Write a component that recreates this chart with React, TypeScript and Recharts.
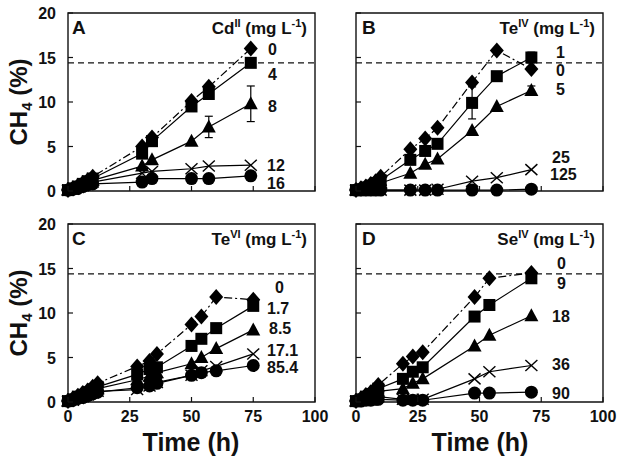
import React from "react";
import { LineChart, Line, XAxis, YAxis, ReferenceLine, ReferenceArea, ErrorBar } from "recharts";

const FONT = "'Liberation Sans', Arial, Helvetica, sans-serif";

// ---------- data ----------
const xTicks = [0, 25, 50, 75, 100];
const yTicks = [0, 5, 10, 15, 20];
const baselineCH4 = 14.4;

// Panel A : Cd(II)
const timesA = [0, 2, 4, 6, 8, 10, 30, 34, 50, 57, 74];
const cdA_0 = [0.1, 0.3, 0.6, 0.9, 1.2, 1.6, 5.0, 6.0, 10.1, 11.7, 16.0];
const cdA_4 = [0.1, 0.3, 0.5, 0.8, 1.1, 1.4, 4.2, 5.6, 9.5, 10.9, 14.4];
const cdA_8 = [0.1, 0.2, 0.5, 0.7, 1.0, 1.2, 2.8, 3.5, 5.6, 7.2, 9.8];
const cdA_12 = [0.1, 0.2, 0.4, 0.6, 0.8, 1.0, 2.0, 2.2, 2.5, 2.8, 2.9];
const cdA_16 = [0.1, 0.2, 0.3, 0.5, 0.7, 0.8, 1.0, 1.4, 1.4, 1.4, 1.7];
const errA_8 = [0, 0, 0, 0, 0, 0, 0, 0, 0, 1.2, 2.0];
const labelsA = ["0", "4", "8", "12", "16"];

// Panel B : Te(IV)
const timesB = [0, 2, 4, 6, 8, 10, 22, 28, 33, 47, 57, 71];
const teB_0 = [0.1, 0.3, 0.5, 0.8, 1.1, 1.6, 4.7, 5.9, 7.1, 12.2, 15.8, 13.7];
const teB_1 = [0.1, 0.2, 0.4, 0.6, 0.9, 1.2, 3.5, 4.5, 5.3, 9.9, 12.9, 15.0];
const teB_5 = [0.1, 0.2, 0.3, 0.5, 0.7, 0.9, 2.0, 3.0, 3.6, 6.8, 9.5, 11.3];
const teB_25 = [0.1, 0.1, 0.1, 0.1, 0.1, 0.1, 0.1, 0.1, 0.2, 1.1, 1.5, 2.4];
const teB_125 = [0.1, 0.1, 0.1, 0.1, 0.1, 0.1, 0.1, 0.1, 0.1, 0.1, 0.1, 0.2];
const errB_1 = [0, 0, 0, 0, 0, 0, 0, 0, 0, 1.8, 0.5, 0.6];
const errB_5 = [0, 0, 0, 0, 0, 0, 0, 0, 0, 0, 0, 0.5];
const labelsB = ["0", "1", "5", "25", "125"];

// Panel C : Te(VI)
const timesC = [0, 2, 4, 6, 8, 10, 12, 28, 33, 36, 50, 54, 60, 75];
const teC_0 = [0.1, 0.4, 0.7, 1.0, 1.3, 1.7, 2.1, 4.0, 4.6, 5.4, 8.7, 9.6, 11.8, 11.5];
const teC_17 = [0.1, 0.3, 0.6, 0.8, 1.1, 1.4, 1.7, 3.1, 3.7, 3.9, 6.3, 7.1, 8.3, 10.8];
const teC_85 = [0.1, 0.3, 0.5, 0.7, 1.0, 1.2, 1.5, 2.5, 2.9, 3.3, 4.3, 5.0, 6.0, 8.1];
const teC_171 = [0.1, 0.2, 0.4, 0.6, 0.8, 1.0, 1.2, 1.4, 1.8, 2.2, 3.0, 3.5, 4.0, 5.4];
const teC_854 = [0.1, 0.2, 0.4, 0.5, 0.7, 0.9, 1.1, 1.6, 1.8, 2.1, 3.0, 3.3, 3.5, 4.1];
const labelsC = ["0", "1.7", "8.5", "17.1", "85.4"];

// Panel D : Se(IV)
const timesD = [0, 2, 4, 6, 8, 9, 19, 23, 27, 48, 54, 71];
const seD_0 = [0.1, 0.4, 0.8, 1.1, 1.5, 1.9, 4.3, 5.1, 5.6, 11.8, 13.9, 14.5];
const seD_9 = [0.1, 0.3, 0.6, 0.9, 1.2, 1.5, 2.6, 3.4, 3.9, 9.6, 10.9, 13.9];
const seD_18 = [0.1, 0.2, 0.5, 0.7, 1.0, 1.2, 1.5, 2.1, 2.6, 6.3, 7.5, 9.7];
const seD_36 = [0.1, 0.2, 0.3, 0.4, 0.5, 0.6, 0.3, 0.3, 0.3, 2.6, 3.4, 4.1];
const seD_90 = [0.1, 0.1, 0.2, 0.2, 0.3, 0.3, 0.2, 0.2, 0.2, 1.0, 1.0, 1.1];
const labelsD = ["0", "9", "18", "36", "90"];

// ---------- markers ----------
type Shape = "diamond" | "square" | "triangle" | "cross" | "circle";
const shapes: Shape[] = ["diamond", "square", "triangle", "cross", "circle"];

function makeDot(shape: Shape) {
  return (p: any) => {
    const { cx, cy, index } = p;
    const k = `${shape}-${index}`;
    if (cx == null || cy == null || isNaN(cx) || isNaN(cy)) return <g key={k} />;
    switch (shape) {
      case "diamond":
        return (
          <polygon key={k} points={`${cx},${cy - 8} ${cx + 7},${cy} ${cx},${cy + 8} ${cx - 7},${cy}`} fill="#000" />
        );
      case "square":
        return <rect key={k} x={cx - 6} y={cy - 6} width={12} height={12} fill="#000" />;
      case "triangle":
        return <polygon key={k} points={`${cx},${cy - 7.5} ${cx + 7},${cy + 5.5} ${cx - 7},${cy + 5.5}`} fill="#000" />;
      case "cross":
        return (
          <g key={k} stroke="#000" strokeWidth={1.4}>
            <line x1={cx - 6} y1={cy - 5.5} x2={cx + 6} y2={cy + 5.5} />
            <line x1={cx - 6} y1={cy + 5.5} x2={cx + 6} y2={cy - 5.5} />
          </g>
        );
      default:
        return <circle key={k} cx={cx} cy={cy} r={6.5} fill="#000" />;
    }
  };
}

// ---------- panel ----------
const PLOT_W = 247;
const PLOT_H = 178;
const ML = 68;
const MT = 13;
const MR = 15;
const MB = 40;

function xTick(show: boolean) {
  return (p: any) => {
    const { x, y, payload, index } = p;
    return (
      <g key={`xt-${index}`}>
        <line x1={x} x2={x} y1={y} y2={y - 5} stroke="#111" strokeWidth={1.2} />
        {show && (
          <text x={x} y={y + 20} textAnchor="middle" fontFamily={FONT} fontWeight="bold" fontSize={16} fill="#111">
            {payload.value}
          </text>
        )}
      </g>
    );
  };
}

function yTick(show: boolean) {
  return (p: any) => {
    const { x, y, payload, index } = p;
    return (
      <g key={`yt-${index}`}>
        <line x1={x} x2={x + 5} y1={y} y2={y} stroke="#111" strokeWidth={1.2} />
        {show && (
          <text x={x - 12} y={y + 6} textAnchor="end" fontFamily={FONT} fontWeight="bold" fontSize={16} fill="#111">
            {payload.value}
          </text>
        )}
      </g>
    );
  };
}

type PanelProps = {
  left: number;
  top: number;
  times: number[];
  series: number[][];
  errors: (number[] | null)[];
  showX: boolean;
  showY: boolean;
};

function Panel({ left, top, times, series, errors, showX, showY }: PanelProps) {
  const data = times.map((t, i) => {
    const row: any = { t };
    series.forEach((s, j) => {
      row["s" + j] = s[i];
      const e = errors[j];
      row["e" + j] = e ? e[i] : 0;
    });
    return row;
  });
  return (
    <div style={{ position: "absolute", left: left - ML, top: top - MT }}>
      <LineChart
        width={PLOT_W + ML + MR}
        height={PLOT_H + MT + MB}
        data={data}
        margin={{ top: MT, right: MR, bottom: 0, left: 0 }}
      >
        <XAxis
          dataKey="t"
          type="number"
          domain={[0, 100]}
          ticks={xTicks}
          interval={0}
          height={MB}
          tickSize={0}
          tickMargin={0}
          axisLine={false}
          tickLine={false}
          tick={xTick(showX)}
        />
        <YAxis
          type="number"
          domain={[0, 20]}
          ticks={yTicks}
          interval={0}
          width={ML}
          tickSize={0}
          tickMargin={0}
          axisLine={false}
          tickLine={false}
          tick={yTick(showY)}
        />
        <ReferenceArea x1={0} x2={100} y1={0} y2={20} fill="none" fillOpacity={0} stroke="#111" strokeWidth={1.4} />
        <ReferenceLine y={baselineCH4} stroke="#111" strokeWidth={1.3} strokeDasharray="6 4" />
        {series.map((_, j) => (
          <Line
            key={j}
            dataKey={"s" + j}
            stroke="#000"
            strokeWidth={1.2}
            strokeDasharray={j === 0 ? "8 3 2 3" : undefined}
            dot={makeDot(shapes[j])}
            activeDot={false}
            isAnimationActive={false}
            type="linear"
          >
            {errors[j] && <ErrorBar dataKey={"e" + j} width={4} stroke="#000" strokeWidth={1.2} direction="y" />}
          </Line>
        ))}
      </LineChart>
    </div>
  );
}

// ---------- text helpers ----------
function Header({ x, y, base, sup }: { x: number; y: number; base: string; sup: string }) {
  return (
    <text x={x} y={y} textAnchor="end" fontFamily={FONT} fontWeight="bold" fontSize={17} fill="#111">
      {base}
      <tspan fontSize={11} dy={-7}>{sup}</tspan>
      <tspan dy={7}> (mg L</tspan>
      <tspan fontSize={11} dy={-7}>-1</tspan>
      <tspan dy={7}>)</tspan>
    </text>
  );
}

function SeriesLabels({ labels, pos }: { labels: string[]; pos: [number, number][] }) {
  return (
    <g>
      {labels.map((l, i) => (
        <text key={i} x={pos[i][0]} y={pos[i][1]} fontFamily={FONT} fontWeight="bold" fontSize={16} fill="#111">
          {l}
        </text>
      ))}
    </g>
  );
}

function YTitle({ cx, cy }: { cx: number; cy: number }) {
  return (
    <text transform={`translate(${cx},${cy}) rotate(-90)`} y={8} textAnchor="middle" fontFamily={FONT} fontWeight="bold" fontSize={24} fill="#111">
      CH<tspan fontSize={15} dy={5}>4</tspan>
      <tspan dy={-5}> (%)</tspan>
    </text>
  );
}

function XTitle({ cx, y }: { cx: number; y: number }) {
  return (
    <text x={cx} y={y} textAnchor="middle" fontFamily={FONT} fontWeight="bold" fontSize={25} fill="#111">
      Time (h)
    </text>
  );
}

export default function App() {
  return (
    <div style={{ position: "absolute", left: 0, top: 0, width: 624, height: 462, background: "#fff", overflow: "hidden" }}>
      <Panel left={68} top={13} times={timesA} series={[cdA_0, cdA_4, cdA_8, cdA_12, cdA_16]} errors={[null, null, errA_8, null, null]} showX={false} showY={true} />
      <Panel left={356} top={13} times={timesB} series={[teB_0, teB_1, teB_5, teB_25, teB_125]} errors={[null, errB_1, errB_5, null, null]} showX={false} showY={false} />
      <Panel left={68} top={224} times={timesC} series={[teC_0, teC_17, teC_85, teC_171, teC_854]} errors={[null, null, null, null, null]} showX={true} showY={true} />
      <Panel left={356} top={224} times={timesD} series={[seD_0, seD_9, seD_18, seD_36, seD_90]} errors={[null, null, null, null, null]} showX={true} showY={false} />
      <svg width={624} height={462} style={{ position: "absolute", left: 0, top: 0, pointerEvents: "none" }}>
        <text x={72} y={34} fontFamily={FONT} fontWeight="bold" fontSize={19} fill="#111">A</text>
        <text x={362} y={34} fontFamily={FONT} fontWeight="bold" fontSize={19} fill="#111">B</text>
        <text x={72} y={245} fontFamily={FONT} fontWeight="bold" fontSize={19} fill="#111">C</text>
        <text x={362} y={245} fontFamily={FONT} fontWeight="bold" fontSize={19} fill="#111">D</text>
        <Header x={307} y={34} base="Cd" sup="II" />
        <Header x={595} y={34} base="Te" sup="IV" />
        <Header x={307} y={245} base="Te" sup="VI" />
        <Header x={595} y={245} base="Se" sup="IV" />
        <SeriesLabels labels={labelsA} pos={[[268, 55], [268, 80], [268, 112], [267, 171], [267, 189]]} />
        <SeriesLabels labels={[labelsB[1], labelsB[0], labelsB[2], labelsB[3], labelsB[4]]} pos={[[556, 58], [556, 76], [556, 95], [552, 163], [550, 180]]} />
        <SeriesLabels labels={labelsC} pos={[[275, 293], [267, 314], [269, 334], [267, 356], [267, 373]]} />
        <SeriesLabels labels={labelsD} pos={[[557, 269], [557, 289], [552, 322], [552, 370], [552, 399]]} />
        <YTitle cx={19} cy={102} />
        <YTitle cx={19} cy={313} />
        <XTitle cx={191} y={451} />
        <XTitle cx={480} y={451} />
      </svg>
    </div>
  );
}
